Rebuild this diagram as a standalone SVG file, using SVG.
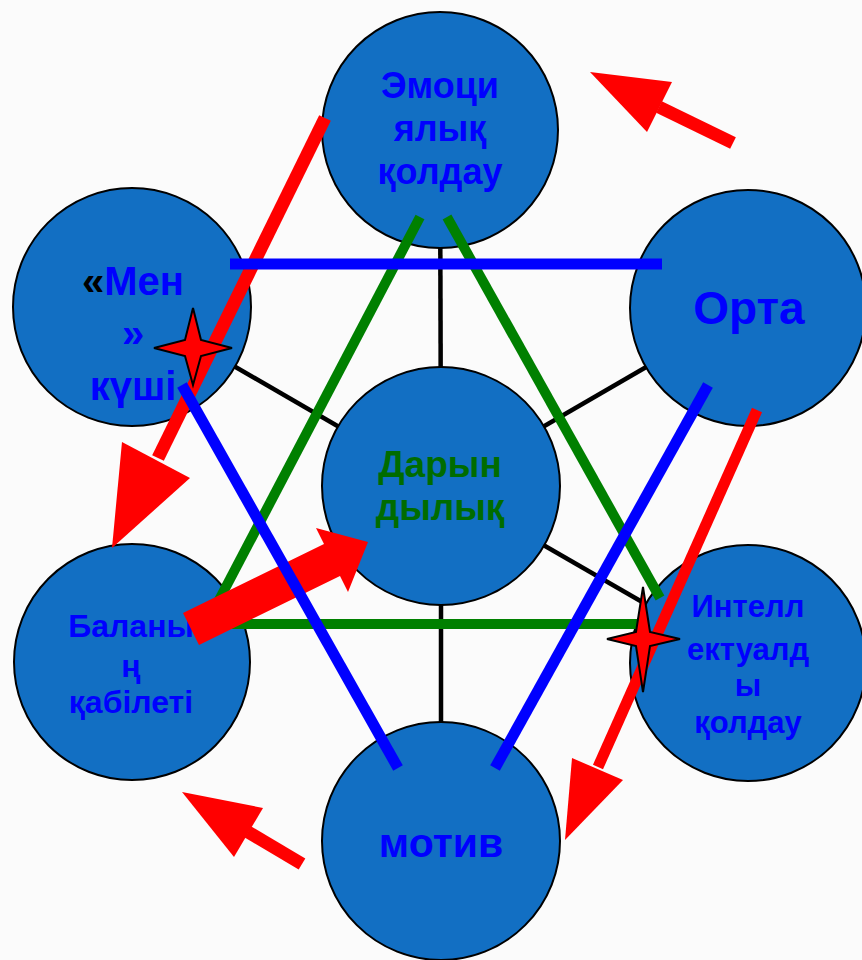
<svg xmlns="http://www.w3.org/2000/svg" width="862" height="960" viewBox="0 0 862 960">
<style>
.node{fill:#126fc3;stroke:#000;stroke-width:2}
.spoke{stroke:#000;stroke-width:4.5}
.t{font-family:"Liberation Sans",Arial,sans-serif;font-weight:bold;fill:#0000ff;text-anchor:middle}
.g{stroke:#008000;stroke-width:10;fill:none}
.b{stroke:#0000ff;stroke-width:11;fill:none}
.r{stroke:#ff0000;fill:none}
.rf{fill:#ff0000}
.star{fill:#ff0000;stroke:#000;stroke-width:2;stroke-linejoin:miter}
</style>
<rect width="862" height="960" fill="#fbfbfb"/>
<g id="spokes">
<line class="spoke" x1="441" y1="486" x2="440" y2="130"/>
<line class="spoke" x1="441" y1="486" x2="132" y2="307"/>
<line class="spoke" x1="441" y1="486" x2="748" y2="308"/>
<line class="spoke" x1="441" y1="486" x2="132" y2="662"/>
<line class="spoke" x1="441" y1="486" x2="748" y2="663"/>
<line class="spoke" x1="441" y1="486" x2="441" y2="841"/>
</g>
<g id="emotsional">
<circle class="node" cx="440" cy="130" r="118"/>
<text class="t" font-size="36"><tspan x="440" y="98">Эмоци</tspan><tspan x="440" y="141">ялық</tspan><tspan x="440" y="184">қолдау</tspan></text>
</g>
<g id="men">
<circle class="node" cx="132" cy="307" r="119"/>
<text class="t" font-size="40"><tspan x="133" y="295"><tspan fill="#000">«</tspan>Мен</tspan><tspan x="133" y="347">»</tspan><tspan x="133" y="400">күші</tspan></text>
</g>
<g id="orta">
<circle class="node" cx="748" cy="308" r="118"/>
<text class="t" font-size="46" x="749" y="324">Орта</text>
</g>
<g id="darynDylyq">
<circle class="node" cx="441" cy="486" r="119"/>
<text class="t" font-size="37" style="fill:#006c00"><tspan x="440" y="477">Дарын</tspan><tspan x="440" y="520">дылық</tspan></text>
</g>
<g id="balanyn">
<circle class="node" cx="132" cy="662" r="118"/>
<text class="t" font-size="32"><tspan x="131" y="637">Баланы</tspan><tspan x="131" y="677">ң</tspan><tspan x="131" y="713">қабілеті</tspan></text>
</g>
<g id="intellektual">
<circle class="node" cx="748" cy="663" r="118"/>
<text class="t" font-size="31"><tspan x="748" y="617">Интелл</tspan><tspan x="748" y="660">ектуалд</tspan><tspan x="748" y="696">ы</tspan><tspan x="748" y="733">қолдау</tspan></text>
</g>
<g id="motiv">
<circle class="node" cx="441" cy="841" r="119"/>
<text class="t" font-size="41" x="441" y="857">мотив</text>
</g>
<g id="connectors">
<g id="green">
<line class="g" x1="420" y1="217" x2="218" y2="602"/>
<line class="g" x1="447" y1="217" x2="660" y2="598"/>
<line class="g" x1="222" y1="624" x2="648" y2="624"/>
</g>
<g id="red">
<line class="r" stroke-width="13" x1="325" y1="118" x2="158" y2="458"/>
<polygon class="rf" points="122,442 190,478 112,548"/>
<line class="r" stroke-width="11" x1="757" y1="410" x2="598" y2="767"/>
<polygon class="rf" points="572,758 623,780 565,840"/>
<line class="r" stroke-width="13" x1="733" y1="143" x2="659" y2="107"/>
<polygon class="rf" points="672,82 647,132 590,72"/>
<line class="r" stroke-width="13" x1="302" y1="864" x2="248" y2="832"/>
<polygon class="rf" points="263,808 234,857 182,792"/>
<polygon class="rf" points="183,613 324,544 316,528 368,542 348,592 340,576 199,645"/>
</g>
<g id="blue">
<line class="b" x1="230" y1="264" x2="662" y2="264"/>
<line class="b" x1="182" y1="385" x2="398" y2="768"/>
<line class="b" x1="708" y1="385" x2="495" y2="768"/>
</g>
<path class="star" d="M193,308 L201,340 L232,348 L201,356 L193,385 L185,356 L154,348 L185,340 Z"/>
<path class="star" d="M643,587 L650,632 L680,639 L650,646 L643,692 L636,646 L607,639 L636,632 Z"/>
</g>
</svg>
